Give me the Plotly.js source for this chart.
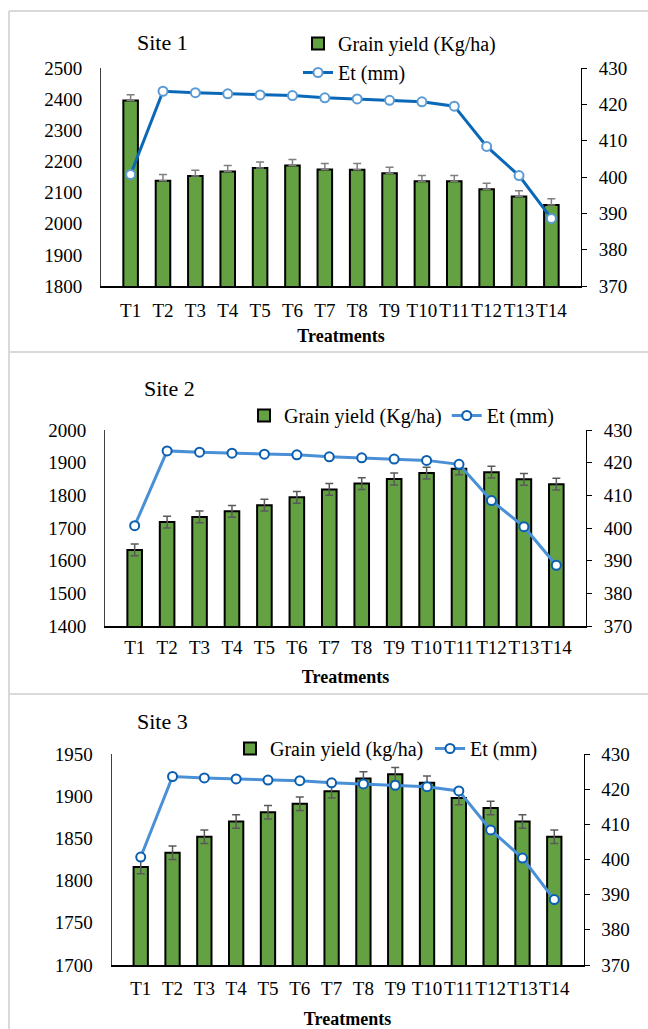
<!DOCTYPE html>
<html>
<head>
<meta charset="utf-8">
<script src="https://cdn.plot.ly/plotly-3.0.1.min.js"></script>
<style>
html,body{margin:0;padding:0;background:#fff;}
#chart{width:648px;height:1029px;}
</style>
</head>
<body>
<div id="chart"></div>
<script>
// ---- data ----
const treatments = ["T1","T2","T3","T4","T5","T6","T7","T8","T9","T10","T11","T12","T13","T14"];
const yieldSite1 = [2396, 2138, 2153, 2168, 2179, 2187, 2174, 2173, 2162, 2136, 2136, 2111, 2087, 2060];
const errSite1   = [18, 20, 19, 19, 19, 19, 19, 20, 19, 19, 19, 19, 19, 20];
const yieldSite2 = [1633, 1718, 1734, 1751, 1770, 1794, 1818, 1836, 1850, 1868, 1881, 1871, 1849, 1834];
const errSite2   = [18, 18, 18, 18, 18, 18, 18, 18, 18, 18, 18, 18, 18, 18];
const yieldSite3 = [1816, 1833, 1852, 1870, 1881, 1891, 1906, 1921, 1926, 1916, 1898, 1886, 1870, 1852];
const errSite3   = [8, 8, 8, 8, 8, 8, 8, 8, 8, 8, 8, 8, 8, 8];
const etMM       = [400.7, 423.6, 423.2, 422.9, 422.6, 422.4, 421.8, 421.5, 421.1, 420.7, 419.5, 408.4, 400.4, 388.6];
const siteTitles = ["Site 1", "Site 2", "Site 3"];
const yieldNames = ["Grain yield (Kg/ha)", "Grain yield (Kg/ha)", "Grain yield (kg/ha)"];
const etName = "Et (mm)";
const xTitle = "Treatments";

// ---- styling ----
const W = 648, H = 1029;
const FONT = "'Liberation Serif', 'Times New Roman', serif";
const GREEN = "#64A142";
const px = v => v / W;
const py = v => 1 - v / H;

function barTrace(y, err, xa, ya, legend, name, plusOnly) {
  const ey = plusOnly
    ? {type: "data", array: err, arrayminus: err.map(() => 0), symmetric: false, color: "#7f7f7f", thickness: 1.5, width: 4}
    : {type: "data", array: err, symmetric: true, color: "#595959", thickness: 1.5, width: 4};
  return {
    type: "bar", x: treatments, y: y, name: name, xaxis: xa, yaxis: ya, legend: legend,
    marker: {color: GREEN, line: {color: "#000", width: 2}},
    error_y: ey, hoverinfo: "x+y"
  };
}
function lineTrace(xa, ya, legend, lineColor, markerLine) {
  return {
    type: "scatter", mode: "lines+markers", x: treatments, y: etMM, name: etName,
    xaxis: xa, yaxis: ya, legend: legend,
    line: {color: lineColor, width: 3},
    marker: {symbol: "circle", size: 9, color: "#fff", line: {color: markerLine, width: 2}}
  };
}

const data = [
  barTrace(yieldSite1, errSite1, "x", "y", "legend", yieldNames[0], true),
  lineTrace("x", "y2", "legend", "#0A68B8", "#5B9BD5"),
  barTrace(yieldSite2, errSite2, "x2", "y3", "legend2", yieldNames[1], false),
  lineTrace("x2", "y4", "legend2", "#4A90D6", "#0A5FB0"),
  barTrace(yieldSite3, errSite3, "x3", "y5", "legend3", yieldNames[2], false),
  lineTrace("x3", "y6", "legend3", "#4A90D6", "#0A5FB0")
];

function xAxis(dom, anchor, labelOff, titleOff) {
  return {
    domain: dom, anchor: anchor, type: "category",
    showline: true, linecolor: "#000", linewidth: 1.5, ticks: "", showgrid: false,
    tickangle: 0, ticklabelstandoff: labelOff,
    tickfont: {family: FONT, size: 19, color: "#000"},
    title: {text: xTitle, font: {family: FONT, size: 18, color: "#000", weight: "bold"}, standoff: titleOff}
  };
}
function yLeft(dom, anchor, range, dtick) {
  return {
    domain: dom, anchor: anchor, range: range, dtick: dtick, tick0: range[0],
    showline: true, linecolor: "#404040", linewidth: 1, ticks: "", showgrid: false, zeroline: false,
    ticklabelstandoff: 14,
    tickfont: {family: FONT, size: 19, color: "#000"}
  };
}
function yRight(overlay, anchor) {
  return {
    overlaying: overlay, anchor: anchor, side: "right", range: [370, 430], dtick: 10, tick0: 370,
    showline: true, linecolor: "#000", linewidth: 1, ticks: "outside", ticklen: 5, tickcolor: "#000",
    showgrid: false, zeroline: false, ticklabelstandoff: 8,
    tickfont: {family: FONT, size: 19, color: "#000"}
  };
}

const legendBase = {font: {family: FONT, size: 20, color: "#000"}, bgcolor: "rgba(0,0,0,0)",
  xanchor: "left", yanchor: "top", borderwidth: 0, tracegroupgap: 0};

const borderColor = "#D9D9D9";
const shapes = [
  {type: "line", xref: "paper", yref: "paper", x0: px(9), x1: px(9), y0: py(11), y1: py(1029), line: {color: borderColor, width: 2}},
  {type: "line", xref: "paper", yref: "paper", x0: px(9), x1: 1, y0: py(11), y1: py(11), line: {color: borderColor, width: 2}},
  {type: "line", xref: "paper", yref: "paper", x0: px(9), x1: 1, y0: py(352), y1: py(352), line: {color: borderColor, width: 2}},
  {type: "line", xref: "paper", yref: "paper", x0: px(9), x1: 1, y0: py(694), y1: py(694), line: {color: borderColor, width: 2}}
];

const titleAnn = (text, x, y) => ({text: text, xref: "paper", yref: "paper", x: px(x), y: py(y),
  xanchor: "center", yanchor: "middle", showarrow: false, font: {family: FONT, size: 22, color: "#000"}});

const layout = {
  width: W, height: H, margin: {l: 0, r: 0, t: 0, b: 0},
  paper_bgcolor: "#fff", plot_bgcolor: "rgba(0,0,0,0)",
  bargap: 0.55, showlegend: true,
  font: {family: FONT, color: "#000"},
  xaxis: xAxis([px(101), px(581)], "y", 7, 9),
  yaxis: yLeft([py(286), py(68)], "x", [1800, 2500], 100),
  yaxis2: yRight("y", "x"),
  xaxis2: xAxis([px(105), px(586)], "y3", 4, 13),
  yaxis3: yLeft([py(626), py(430)], "x2", [1400, 2000], 100),
  yaxis4: yRight("y3", "x2"),
  xaxis3: xAxis([px(111.5), px(583.5)], "y5", 6, 17),
  yaxis5: yLeft([py(965), py(754)], "x3", [1700, 1950], 50),
  yaxis6: yRight("y5", "x3"),
  legend: Object.assign({}, legendBase, {orientation: "v", x: px(298), y: py(24)}),
  legend2: Object.assign({}, legendBase, {orientation: "h", x: px(244), y: py(396)}),
  legend3: Object.assign({}, legendBase, {orientation: "h", x: px(230), y: py(729), entrywidth: 155}),
  shapes: shapes,
  annotations: [titleAnn(siteTitles[0], 162, 43), titleAnn(siteTitles[1], 169, 388), titleAnn(siteTitles[2], 162, 721)]
};

Plotly.newPlot("chart", data, layout, {staticPlot: true, displayModeBar: false});
</script>
</body>
</html>
